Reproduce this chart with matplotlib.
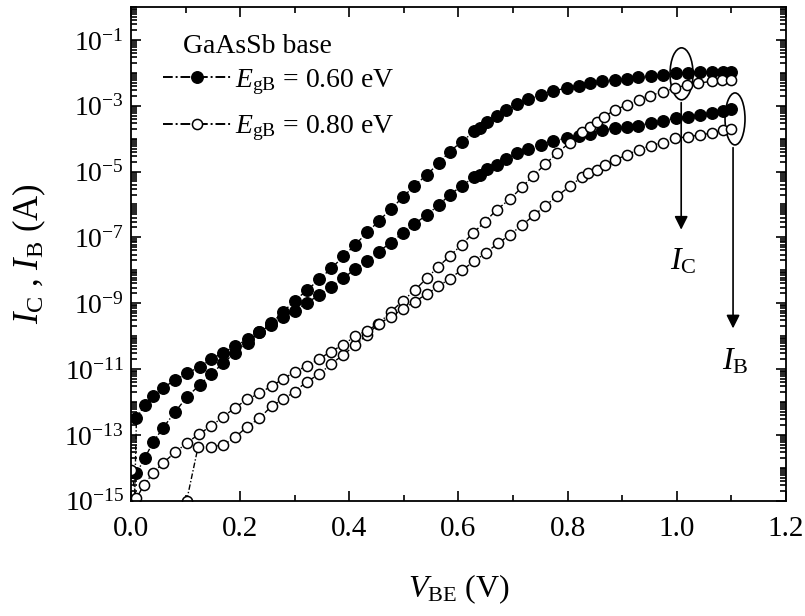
import numpy as np
import matplotlib
matplotlib.use('Agg')
import matplotlib.pyplot as plt
from matplotlib.patches import Ellipse
from matplotlib.ticker import (FixedLocator, LogLocator, LogFormatterSciNotation,
                               MultipleLocator, FormatStrFormatter, NullFormatter)

plt.rcParams['font.family'] = ['Liberation Serif', 'DejaVu Serif']
plt.rcParams['mathtext.fontset'] = 'custom'
plt.rcParams['mathtext.rm'] = 'Liberation Serif'
plt.rcParams['mathtext.it'] = 'Liberation Serif:italic'

# Gummel data, currents as log10(I / A)
v_c060 = [0.010, 0.025, 0.041, 0.059, 0.081, 0.103, 0.126, 0.147, 0.169, 0.191,
          0.214, 0.235, 0.257, 0.279, 0.300, 0.323, 0.345, 0.367, 0.389, 0.410,
          0.433, 0.454, 0.476, 0.498, 0.519, 0.542, 0.564, 0.584, 0.606, 0.629,
          0.639, 0.653, 0.670, 0.687, 0.708, 0.728, 0.752, 0.774, 0.798, 0.820,
          0.841, 0.862, 0.886, 0.908, 0.929, 0.952, 0.974, 0.999, 1.020, 1.042,
          1.064, 1.085, 1.100]
logic_060 = [-14.17, -13.71, -13.21, -12.78, -12.30, -11.84, -11.48, -11.15, -10.82, -10.50,
             -10.20, -9.88, -9.61, -9.26, -8.92, -8.60, -8.27, -7.94, -7.58, -7.23,
             -6.85, -6.50, -6.14, -5.78, -5.43, -5.10, -4.74, -4.39, -4.09, -3.78,
             -3.68, -3.48, -3.31, -3.12, -2.94, -2.80, -2.67, -2.55, -2.46, -2.39,
             -2.31, -2.26, -2.21, -2.18, -2.14, -2.11, -2.07, -2.01, -1.99, -1.98,
             -1.98, -1.96, -1.96]

v_b060 = [0.0] + v_c060
logib_060 = [-20.0,
             -12.50, -12.09, -11.82, -11.57, -11.33, -11.13, -10.93, -10.70, -10.50, -10.30,
             -10.09, -9.88, -9.65, -9.41, -9.23, -8.98, -8.75, -8.50, -8.24, -7.97,
             -7.71, -7.43, -7.16, -6.87, -6.59, -6.32, -6.01, -5.71, -5.43, -5.17,
             -5.10, -4.93, -4.80, -4.62, -4.44, -4.30, -4.19, -4.06, -3.99, -3.92,
             -3.86, -3.75, -3.68, -3.65, -3.60, -3.53, -3.45, -3.38, -3.33, -3.28,
             -3.22, -3.17, -3.10]

v_c080 = [0.102, 0.123, 0.147, 0.169, 0.191, 0.213, 0.235, 0.258, 0.279, 0.300,
          0.322, 0.345, 0.366, 0.389, 0.410, 0.432, 0.453, 0.476, 0.498, 0.520,
          0.542, 0.563, 0.584, 0.606, 0.627, 0.649, 0.670, 0.694, 0.716, 0.737,
          0.759, 0.780, 0.804, 0.826, 0.841, 0.853, 0.866, 0.886, 0.908, 0.930,
          0.951, 0.975, 0.997, 1.018, 1.039, 1.064, 1.082, 1.100]
logic_080 = [-15.00, -13.36, -13.36, -13.31, -13.07, -12.75, -12.50, -12.12, -11.91, -11.69,
             -11.38, -11.16, -10.85, -10.57, -10.28, -9.97, -9.63, -9.26, -8.93, -8.60,
             -8.24, -7.89, -7.57, -7.22, -6.86, -6.52, -6.16, -5.84, -5.48, -5.12,
             -4.78, -4.44, -4.12, -3.80, -3.64, -3.50, -3.33, -3.14, -2.97, -2.81,
             -2.69, -2.58, -2.46, -2.37, -2.31, -2.26, -2.23, -2.21]

v_b080 = [0.0, 0.010, 0.024, 0.040, 0.059, 0.081, 0.103, 0.125, 0.147, 0.169,
          0.191, 0.213, 0.235, 0.258, 0.279, 0.300, 0.322, 0.345, 0.366, 0.389,
          0.410, 0.432, 0.454, 0.476, 0.498, 0.520, 0.542, 0.563, 0.584, 0.606,
          0.629, 0.650, 0.673, 0.694, 0.717, 0.738, 0.759, 0.780, 0.804, 0.826,
          0.838, 0.853, 0.868, 0.887, 0.908, 0.930, 0.952, 0.974, 0.997, 1.020,
          1.042, 1.064, 1.085, 1.100]
logib_080 = [-14.07, -14.93, -14.51, -14.17, -13.85, -13.53, -13.24, -12.97, -12.73, -12.45,
             -12.17, -11.92, -11.74, -11.51, -11.30, -11.08, -10.91, -10.69, -10.47, -10.26,
             -10.01, -9.83, -9.62, -9.41, -9.18, -8.95, -8.72, -8.49, -8.25, -7.99,
             -7.73, -7.46, -7.18, -6.92, -6.62, -6.33, -6.04, -5.75, -5.45, -5.16,
             -5.05, -4.95, -4.80, -4.65, -4.49, -4.34, -4.21, -4.12, -3.99, -3.94,
             -3.89, -3.83, -3.74, -3.71]

ls = (0, (4, 1.5, 1, 1.5))

fig = plt.figure(figsize=(8.05, 6.16), dpi=100)
ax = fig.add_axes([0.1627, 0.1872, 0.8137, 0.8014])

filled = dict(color='k', ls=ls, lw=1.0, marker='o', ms=8.3, mfc='k', mec='k')
hollow = dict(color='k', ls=ls, lw=1.0, marker='o', ms=7.3, mfc='white', mec='k', mew=1.1)

h1, = ax.plot(v_c060, 10.0 ** np.array(logic_060), label=r'$E_{\rm gB}$ = 0.60 eV', **filled)
ax.plot(v_b060, 10.0 ** np.array(logib_060), **filled)
h2, = ax.plot(v_c080, 10.0 ** np.array(logic_080), label=r'$E_{\rm gB}$ = 0.80 eV', **hollow)
ax.plot(v_b080, 10.0 ** np.array(logib_080), **hollow)

ax.set_yscale('log')
ax.set_xlim(0, 1.2)
ax.set_ylim(1e-15, 1e0)

ax.yaxis.set_major_locator(FixedLocator(10.0 ** np.arange(-15, 0, 2)))
ax.yaxis.set_major_formatter(LogFormatterSciNotation())
ax.yaxis.set_minor_locator(LogLocator(base=10, subs=np.arange(1, 10), numticks=100))
ax.yaxis.set_minor_formatter(NullFormatter())
ax.xaxis.set_major_locator(MultipleLocator(0.2))
ax.xaxis.set_minor_locator(MultipleLocator(0.1))
ax.xaxis.set_major_formatter(FormatStrFormatter('%.1f'))

ax.tick_params(which='both', direction='in', top=True, right=True, width=1.2)
ax.tick_params(which='major', length=7)
ax.tick_params(which='minor', length=4)
ax.tick_params(axis='x', labelsize=21, pad=11)
ax.tick_params(axis='y', labelsize=20, pad=5)
for s in ax.spines.values():
    s.set_linewidth(1.3)

ax.set_xlabel(r'$V_{\rm BE}$ (V)', fontsize=23, labelpad=22)
ax.set_ylabel(r'$I_{\rm C}$ , $I_{\rm B}$ (A)', fontsize=25, labelpad=12)

leg = ax.legend(handles=[h1, h2], title='GaAsSb base', loc='upper left',
                bbox_to_anchor=(0.01, 0.996), frameon=False, fontsize=20,
                title_fontsize=20, handlelength=2.45, handletextpad=0.15,
                labelspacing=0.6, numpoints=1, alignment='left')
leg._legend_box.sep = 6
leg.get_title().set_position((20, 0))
for lh in leg.get_lines():
    lh.set_linestyle((0, (5, 1.5, 1, 1.5)))
    lh.set_linewidth(1.4)

# ellipses around the end points, arrows down to the labels
to_axes = ax.transScale + ax.transLimits
for vc, lc, w in [(1.0086, -2.03, 0.0351), (1.1066, -3.40, 0.0305)]:
    cx, cy = to_axes.transform((vc, 10.0 ** lc))
    ax.add_patch(Ellipse((cx, cy), w, 0.1053, transform=ax.transAxes,
                         fill=False, ec='k', lw=1.2))

arrow = dict(arrowstyle='-|>', color='k', lw=1.2, mutation_scale=20)
ax.annotate('', xy=(1.008, 10.0 ** -6.85), xytext=(1.008, 10.0 ** -2.82), arrowprops=arrow)
ax.annotate('', xy=(1.103, 10.0 ** -9.85), xytext=(1.103, 10.0 ** -4.19), arrowprops=arrow)
ax.text(1.011, 10.0 ** -7.75, r'$I_{\rm C}$', fontsize=23, ha='center', va='center')
ax.text(1.107, 10.0 ** -10.78, r'$I_{\rm B}$', fontsize=23, ha='center', va='center')

fig.savefig('out.png', dpi=100)
